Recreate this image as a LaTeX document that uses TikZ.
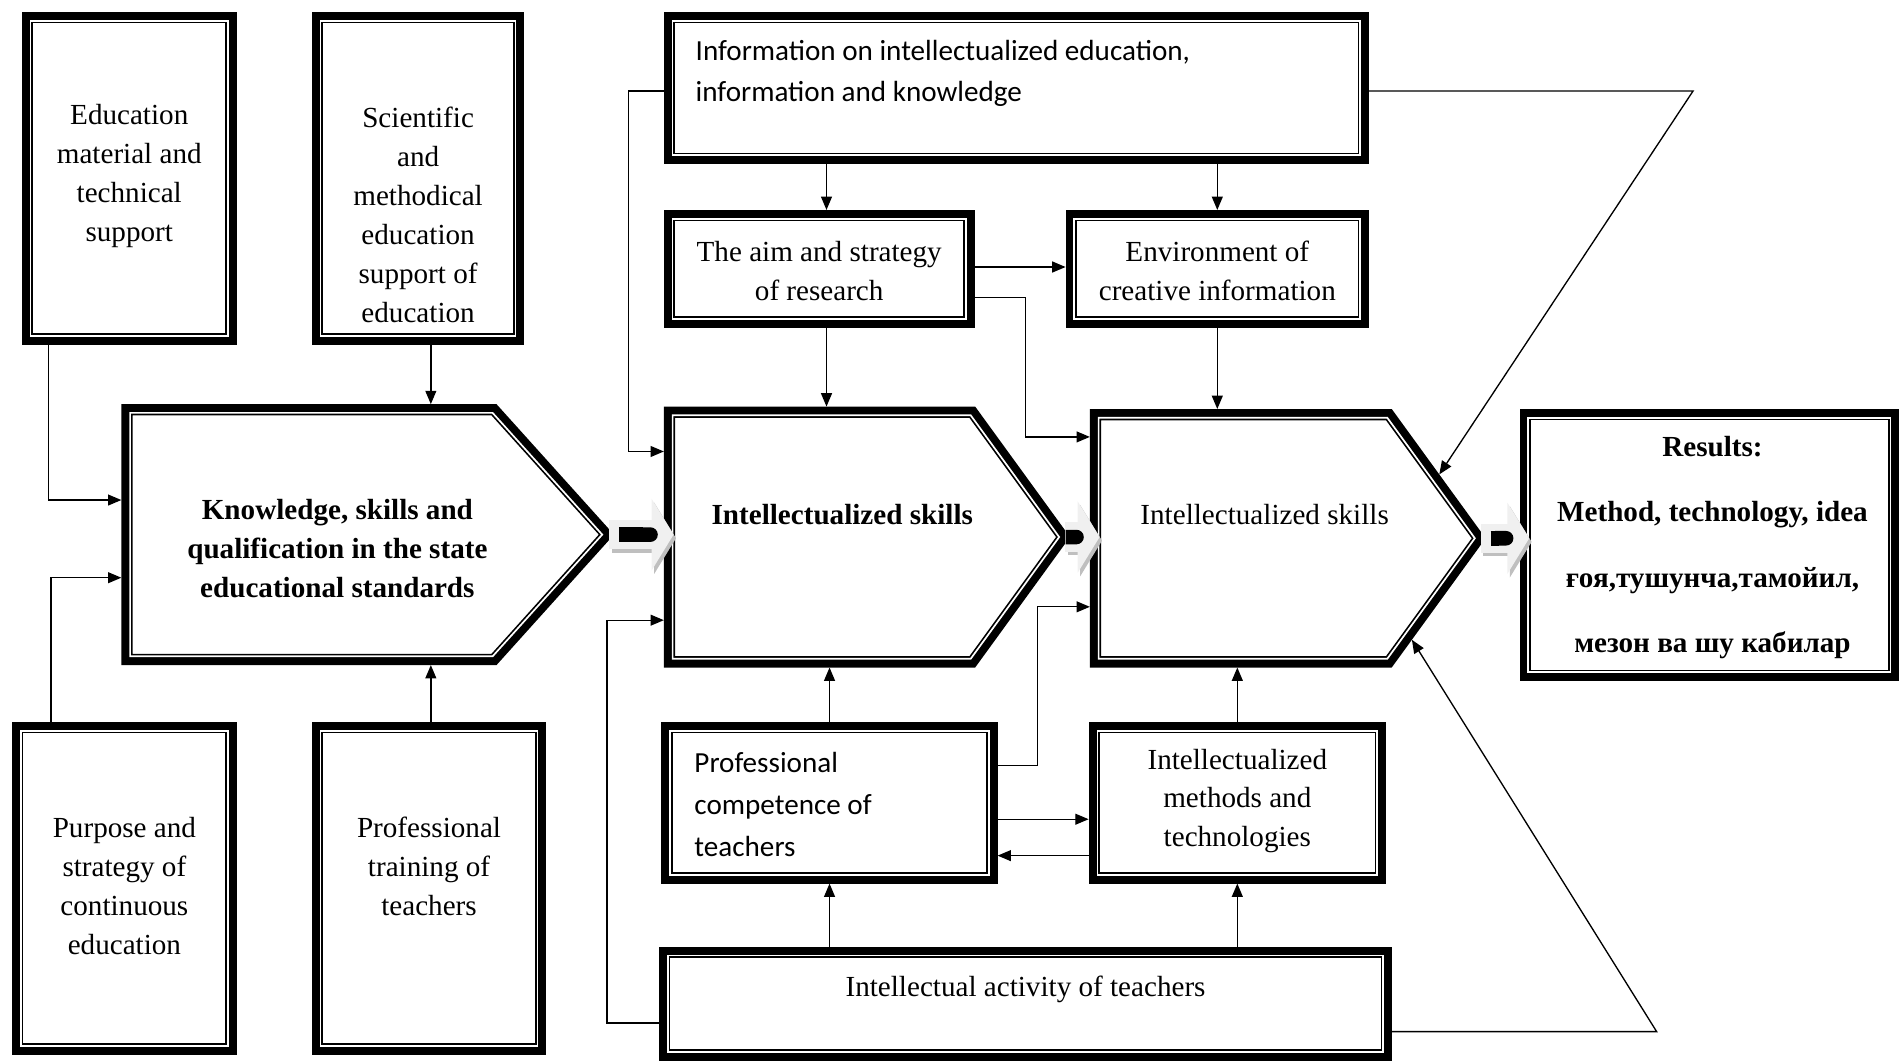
\documentclass[tikz,border=0pt]{standalone}
\usepackage{fontspec}
\setmainfont{Liberation Serif}
\newfontfamily\calibri{Carlito}
\usetikzlibrary{arrows.meta, shapes.symbols}

\tikzset{
  frame/.style={draw, fill=white, line width=1.4pt, double=white, double distance=1.4pt,
    preaction={draw, line width=14.4pt}, outer sep=7.2pt, inner sep=0pt},
  box/.style={frame, rectangle, anchor=north west},
  boxsize/.style 2 args={minimum width=#1pt-14.4pt, minimum height=#2pt-14.4pt},
  chevron/.style={frame, signal, signal to=east, anchor=west},
  txt/.style={anchor=center, align=center, inner sep=0pt, font=\fontsize{24}{32}\selectfont},
  boldtxt/.style={txt, font=\fontsize{24}{32}\selectfont\bfseries},
  caltxt/.style={anchor=west, align=left, inner sep=0pt, font=\calibri\fontsize{24}{34.5}\selectfont},
  link/.style={line width=1.1pt, -{Triangle[length=11pt,width=9pt]}},
  flow/.style={line width=24pt, -{Triangle[length=18pt,width=58pt]}}
}

\begin{document}
\begin{tikzpicture}[x=1pt, y=-1pt]
\useasboundingbox (0,0) rectangle (1568,875);

% left part
\node[box, boxsize={177}{274}, label={[txt, shift={(0,-2)}]center:{Education\\material and\\technical\\support}}] (edu) at (18,10) {};
\node[box, boxsize={175}{274}, label={[txt, shift={(0,30)}]center:{Scientific\\and\\methodical\\education\\support of\\education}}] (sci) at (257,10) {};
\node[box, boxsize={185}{274}, label={[txt, shift={(0,-2)}]center:{Purpose and\\strategy of\\continuous\\education}}] (purp) at (10,595) {};
\node[box, boxsize={193}{274}, label={[txt, shift={(0,-18)}]center:{Professional\\training of\\teachers}}] (train) at (257,595) {};
\node[chevron, minimum width=389pt, minimum height=200.6pt, signal pointer angle=96,
  label={[boldtxt, shift={(178,11.5)}]west:{Knowledge, skills and\\qualification in the state\\educational standards}}] (know) at (100,440.5) {};

% middle part
\node[box, boxsize={581}{125}, label={[caltxt, shift={(26,-12)}]west:{Information on intellectualized education,\\information and knowledge}}] (info) at (547,10) {};
\node[box, boxsize={256}{97}, label={[txt, shift={(0,1.5)}]center:{The aim and strategy\\of research}}] (aim) at (547,173) {};
\node[box, boxsize={250}{97}, label={[txt, shift={(0,1.5)}]center:{Environment of\\creative information}}] (env) at (878,173) {};
\node[chevron, minimum width=318.5pt, minimum height=200.6pt, signal pointer angle=108,
  label={[boldtxt, shift={(147,-18.5)}]west:{Intellectualized skills}}] (skill) at (547,442.5) {};
\node[chevron, minimum width=310pt, minimum height=198.6pt, signal pointer angle=108,
  label={[txt, shift={(144,-19.5)}]west:{Intellectualized skills}}] (iskill) at (898,443.5) {};
\node[box, boxsize={313}{224}, label={[txt, font=\fontsize{24}{54}\selectfont\bfseries, shift={(2.5,2)}]center:{Results:\\Method, technology, idea\\ғоя,тушунча,тамойил,\\мезон ва шу кабилар}}] (res) at (1252,337) {};
\node[box, boxsize={277}{133}, label={[caltxt, shift={(27,1.5)}]west:{Professional\\competence of\\teachers}}] (prof) at (545,595) {};
\node[box, boxsize={245}{133}, label={[txt, shift={(0,-1.5)}]center:{Intellectualized\\methods and\\technologies}}] (meth) at (897,595) {};
\node[box, boxsize={604}{94}, label={[txt, shift={(0,-12)}]center:{Intellectual activity of teachers}}] (act) at (543,780) {};

\coordinate (infobend) at (1395,75);
\coordinate (actbend) at (1365,850);

% connectors
\draw[link] ([xshift=-66.5pt]edu.south) |- ([yshift=28.5pt]know.west);
\draw[link] ([xshift=10.5pt]sci.south) -- ([xshift=10.5pt]sci.south |- know.north);
\draw[link] ([xshift=-60.5pt]purp.north) |- ([yshift=-35.5pt]know.west);
\draw[link] ([xshift=1.5pt]train.north) -- ([xshift=1.5pt]train.north |- know.south);
\draw[link] ([xshift=6pt]aim.north |- info.south) -- ([xshift=6pt]aim.north);
\draw[link] (env.north |- info.south) -- (env.north);
\draw[link] ([xshift=6pt]aim.south) -- ([xshift=6pt]aim.south |- skill.north);
\draw[link] (env.south) -- (env.south |- iskill.north);
\draw[link] ([yshift=-2.5pt]info.west) -| ([xshift=-29pt,yshift=70.5pt]skill.west) -- ([yshift=70.5pt]skill.west);
\draw[link] ([yshift=-16pt]act.west) -| ([xshift=-47pt,yshift=-68.5pt]skill.west) -- ([yshift=-68.5pt]skill.west);
\draw[link] ([yshift=1.5pt]aim.east) -- ([yshift=1.5pt]aim.east -| env.west);
\draw[link] ([yshift=-23.5pt]aim.east) -| ([xshift=-53pt,yshift=83.5pt]iskill.west) -- ([yshift=83.5pt]iskill.west);
\draw[link] ([yshift=30.5pt]prof.east) -| ([xshift=-43pt,yshift=-56.5pt]iskill.west) -- ([yshift=-56.5pt]iskill.west);
\draw[link] ([yshift=-13.5pt]prof.east) -- ([yshift=-13.5pt]prof.east -| meth.west);
\draw[link] ([yshift=-43.5pt]meth.west) -- ([yshift=-43.5pt]meth.west -| prof.east);
\draw[link] (prof.north) -- (prof.north |- skill.south);
\draw[link] (meth.north) -- (meth.north |- iskill.south);
\draw[link] (prof.south |- act.north) -- (prof.south);
\draw[link] (meth.south |- act.north) -- (meth.south);
\draw[link] (info.east |- infobend) -- (infobend) -- (iskill.18.5);
\draw[link] (act.east |- actbend) -- (actbend) -- (iskill.-31);

% block arrows
\foreach \a/\b in {know/skill, skill/iskill, iskill/res}{
  \draw[flow, gray!50, transform canvas={shift={(2pt,-3pt)}}] ([xshift=-4pt]\a.east) -- ([xshift=8pt]\b.west |- \a.east);
  \draw[flow, gray!12] ([xshift=-4pt]\a.east) -- ([xshift=8pt]\b.west |- \a.east);
  \draw[line width=12pt, -{Round Cap}] ([xshift=4pt]\a.east) -- ([xshift=-5pt]\b.west |- \a.east);
}
\end{tikzpicture}
\end{document}
